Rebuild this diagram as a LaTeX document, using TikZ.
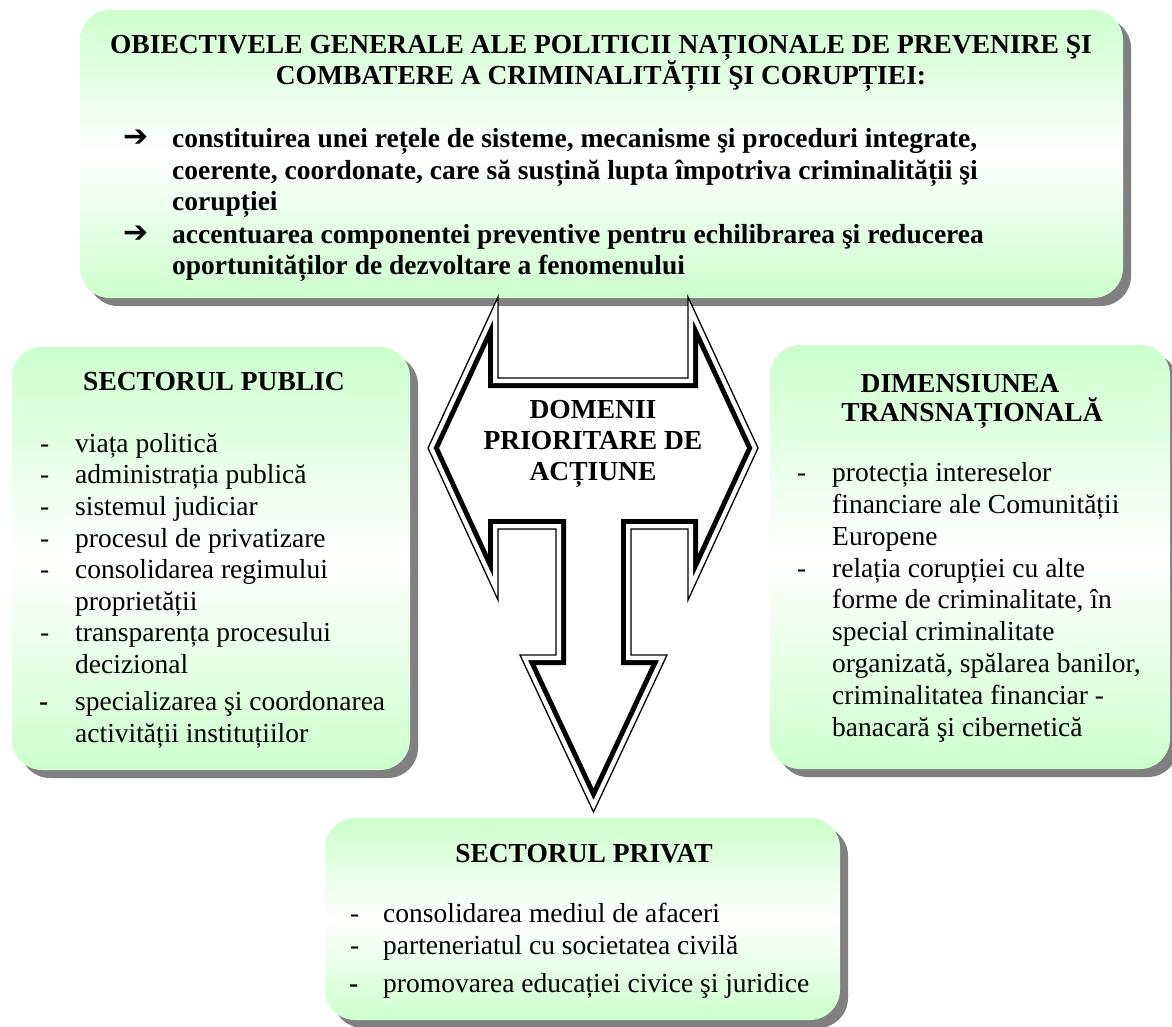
\documentclass[tikz,border=0pt]{standalone}
\usepackage{fontspec}
\setmainfont{Liberation Serif}
\newfontfamily\symfont{DejaVu Sans}
\usetikzlibrary{positioning}
\definecolor{panelgreen}{HTML}{CCFFCC}
\definecolor{shadowgray}{HTML}{808080}
\tikzset{
every node/.style={inner sep=0pt, font=\fontsize{27.5}{31.6}\selectfont}, % all texts share one size
panel/.style={rounded corners=30pt, top color=panelgreen, bottom color=panelgreen, middle color=white},
panelshadow/.style={rounded corners=30pt, fill=shadowgray},
head/.style={anchor=base, font=\fontsize{27.5}{31.6}\selectfont\bfseries},
listitem/.style={anchor=base west},
bolditem/.style={anchor=base west, font=\fontsize{27.5}{31.6}\selectfont\bfseries},
}
% outline of the three-way arrow
\def\arrowpath{(498,297) -- (498,378) -- (688,378) -- (688,297) -- (758,448)
  -- (688,600) -- (688,529) -- (631,529) -- (631,655) -- (667,655) -- (593.5,812)
  -- (520,655) -- (556,655) -- (556,529) -- (498,529) -- (498,600) -- (428,448) -- cycle}

\begin{document}
\begin{tikzpicture}[x=1pt, y=-1pt]
  \useasboundingbox[fill=white] (0,0) rectangle (1172,1027);

  % Obiective
  \fill[panelshadow] (88,18) rectangle (1131,306);
  \shade[panel] (80,10) rectangle (1123,298);

  % Sector public
  \fill[panelshadow] (20,355) rectangle (418,778);
  \shade[panel] (12,347) rectangle (410,770);

  % Dimensiune transnationala
  \fill[panelshadow] (778,353) rectangle (1178,777);
  \shade[panel] (770,345) rectangle (1170,769);

  % Sector privat
  \fill[panelshadow] (333,826) rectangle (848,1028);
  \shade[panel] (325,818) rectangle (840,1020);

  % Arrow: thin outer line, thick inner line
  \fill[white] \arrowpath;
  \begin{scope}
    \clip \arrowpath;
    \draw[line width=20pt, line join=miter] \arrowpath;
    \draw[white, line width=10pt, line join=miter] \arrowpath;
  \end{scope}
  \draw[line width=1.3pt, line join=miter] \arrowpath;

  \node[head] (domains-1) at (593,418) {DOMENII};
  \node[head] (domains-2) at (593,449) {PRIORITARE DE};
  \node[head] (domains-3) at (593,480) {ACȚIUNE};

  % Obiective texts
  \node[head] (goals-1) at (601,54) {OBIECTIVELE GENERALE ALE POLITICII NAȚIONALE DE PREVENIRE ŞI};
  \node[head] (goals-2) at (601,85) {COMBATERE A CRIMINALITĂȚII ŞI CORUPȚIEI:};
  \foreach \y/\txt [count=\i] in
  {148/{constituirea unei rețele de sisteme, mecanisme şi proceduri integrate,},
   180/{coerente, coordonate, care să susțină lupta împotriva criminalității şi},
   211/{corupției},
   243/{accentuarea componentei preventive pentru echilibrarea şi reducerea},
   274/{oportunităților de dezvoltare a fenomenului}}
  {
    \node[bolditem] (goal-\i) at (172,\y) {\txt};
  }
  \foreach \y [count=\i] in {147,242}
    \node[listitem, font=\fontsize{30}{32}\symfont\bfseries] (mark-\i) at (123,\y) {➔};

  % Sector public texts
  \node[head] (public) at (214,390) {SECTORUL PUBLIC};
  \foreach \y/\txt [count=\i] in
  {452/viața politică, 483/administrația publică, 515/sistemul judiciar,
   547/procesul de privatizare, 578/consolidarea regimului, 610/proprietății,
   641/transparența procesului, 673/decizional, 710/specializarea şi coordonarea,
   742/activității instituțiilor}
  {
    \node[listitem] (public-\i) at (75,\y) {\txt};
  }
  \foreach \y [count=\i] in {452,483,515,547,578,641}
    \node[listitem] (public-dash-\i) at (40,\y) {-};
  \node[bolditem] (public-dash-7) at (39,710) {-};

  % Dimensiune transnationala texts
  \node[head] (trans-1) at (960,392) {DIMENSIUNEA};
  \node[head] (trans-2) at (972,421) {TRANSNAȚIONALĂ};
  \foreach \y/\txt [count=\i] in
  {481/protecția intereselor, 513/financiare ale Comunității, 545/Europene,
   577/relația corupției cu alte, 608/{forme de criminalitate, în},
   640/special criminalitate, 672/{organizată, spălarea banilor,},
   704/criminalitatea financiar -, 736/banacară şi cibernetică}
  {
    \node[listitem] (trans-item-\i) at (832,\y) {\txt};
  }
  \foreach \y [count=\i] in {481,577}
    \node[listitem] (trans-dash-\i) at (797,\y) {-};

  % Sector privat texts
  \node[head] (private) at (584,862) {SECTORUL PRIVAT};
  \foreach \y/\txt [count=\i] in
  {922/consolidarea mediul de afaceri, 954/parteneriatul cu societatea civilă,
   992/promovarea educației civice şi juridice}
  {
    \node[listitem] (private-\i) at (383,\y) {\txt};
  }
  \foreach \y [count=\i] in {922,954}
    \node[listitem] (private-dash-\i) at (350,\y) {-};
  \node[bolditem] (private-dash-3) at (349,992) {-};
\end{tikzpicture}
\end{document}
